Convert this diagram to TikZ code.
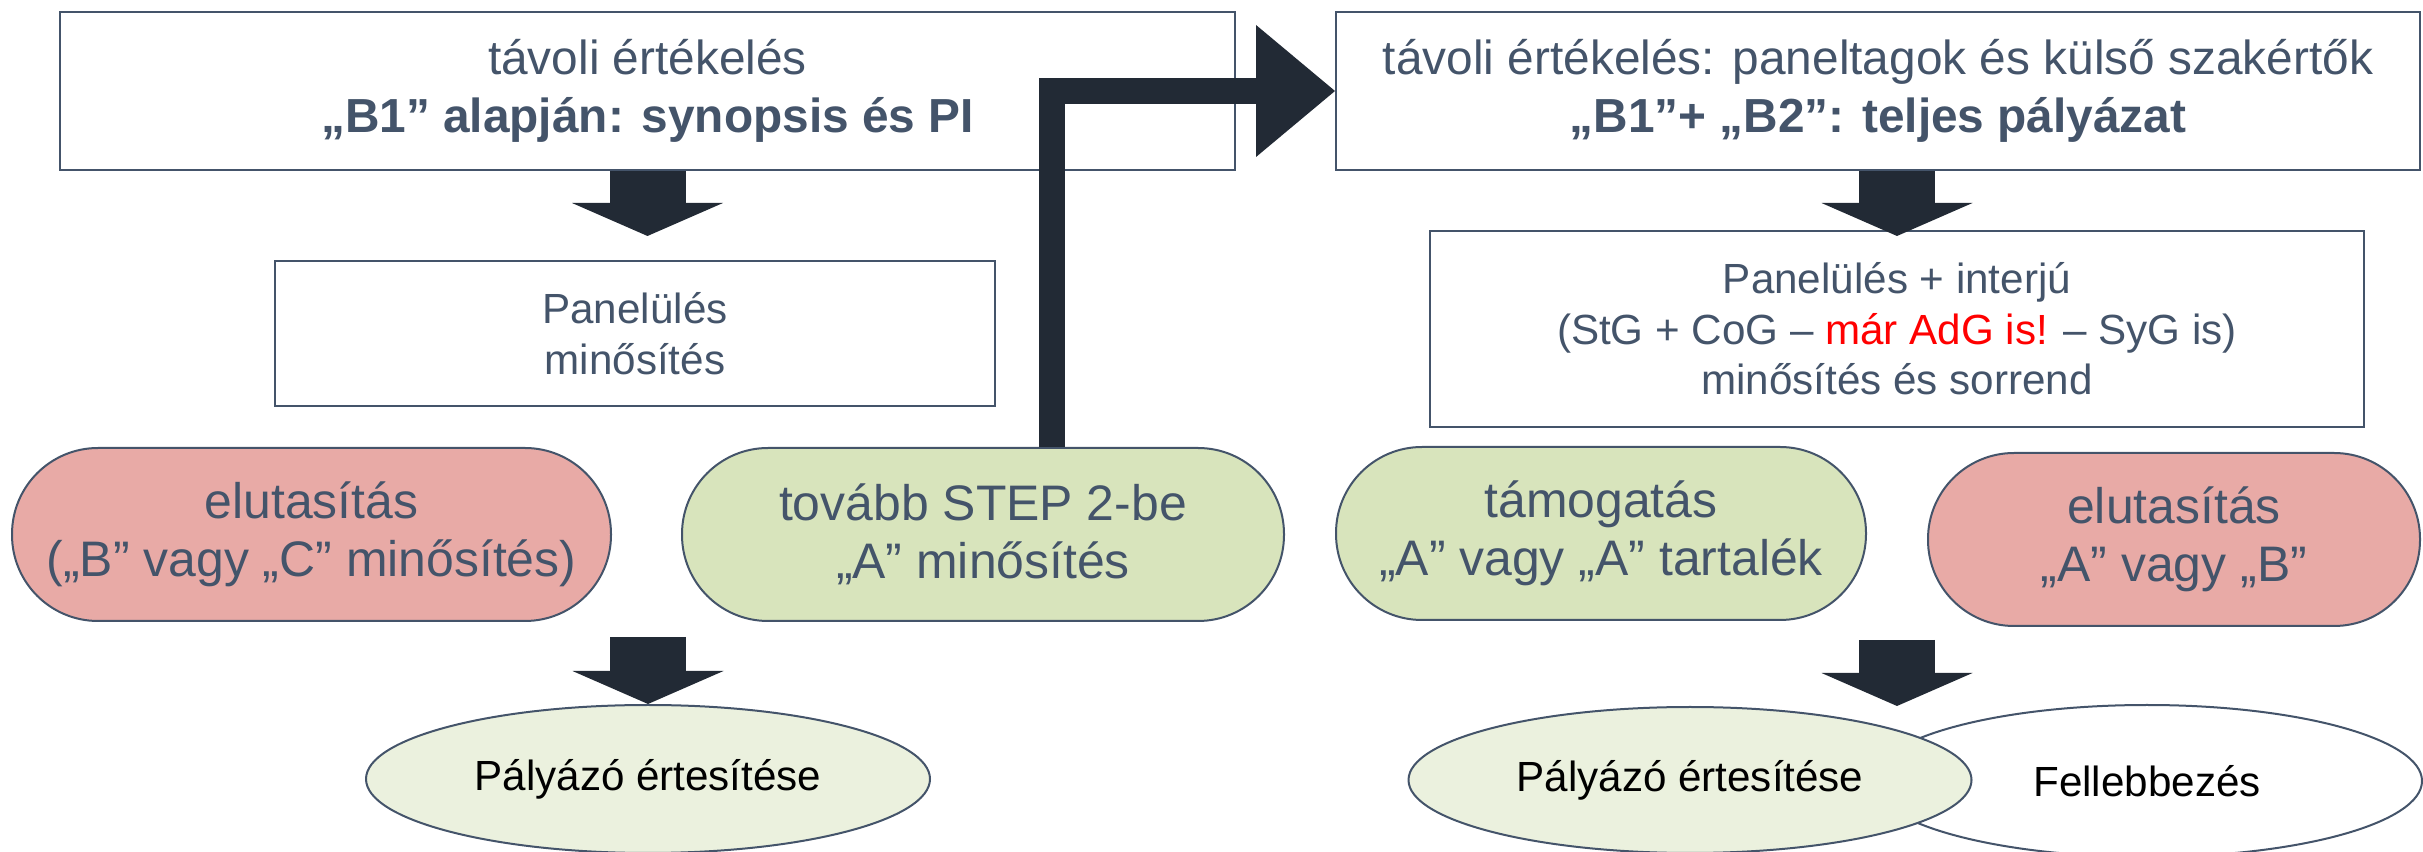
\documentclass[tikz,border=0pt]{standalone}
\usepackage{fontspec}
\setmainfont{Liberation Sans}
\usetikzlibrary{arrows.meta,calc,shapes.geometric}

\definecolor{slate}{HTML}{44546A}
\definecolor{arrowdark}{HTML}{222A35}
\definecolor{rejectred}{HTML}{E8AAA6}
\definecolor{passgreen}{HTML}{D8E4BC}
\definecolor{notegreen}{HTML}{EBF1DE}

\tikzset{
  bigbox/.style={draw=slate, line width=0.2mm, fill=white, text=slate, align=center, inner sep=0pt, minimum height=15.8mm, font=\fontsize{13.6}{16.5}\selectfont},
  panelbox/.style={draw=slate, line width=0.2mm, fill=white, text=slate, align=center, inner sep=0pt, font=\fontsize{12}{14.4}\selectfont},
  pill/.style={draw=slate, line width=0.2mm, rounded corners=8.6mm, text=slate, align=center, inner sep=0pt, minimum height=17.3mm, font=\fontsize{14.2}{16.5}\selectfont},
  notice/.style={ellipse, draw=slate, line width=0.2mm, inner sep=0pt, font=\fontsize{12}{14.4}\selectfont},
  fatdown/.style={draw=arrowdark, line width=7.6mm, -{Triangle[width=15.1mm,length=3.3mm,line width=0pt]}},
  fatbend/.style={draw=arrowdark, line width=2.6mm, line join=miter, -{Triangle[width=13.2mm,length=7.9mm,line width=0pt]}}
}

\begin{document}
\begin{tikzpicture}[x=0.1mm, y=-0.1mm]
    \useasboundingbox (0,0) rectangle (2423,852);

    % Step 1
    \node[bigbox, minimum width=117.5mm] (box1) at (647.5,91) {távoli értékelés\\\textbf{„B1” alapján: synopsis és PI}};
    \node[panelbox, minimum width=72mm, minimum height=14.5mm] (box3) at (635,333.5) {Panelülés\\minősítés};
    \node[pill, fill=rejectred, minimum width=59.9mm] (reject1) at (311.5,534.5) {elutasítás\\(„B” vagy „C” minősítés)};
    \node[pill, fill=passgreen, minimum width=60.2mm] (next) at (983,534.5) {tovább STEP 2-be\\„A” minősítés};
    \node[notice, fill=notegreen, minimum width=56.4mm, minimum height=14.8mm] (notif1) at (648,779) {Pályázó értesítése};

    % Step 2
    \node[bigbox, minimum width=108.4mm] (box2) at (1878,91) {távoli értékelés: paneltagok és külső szakértők\\\textbf{„B1”+ „B2”: teljes pályázat}};
    \node[panelbox, minimum width=93.4mm, minimum height=19.6mm] (box4) at (1897,329) {Panelülés + interjú\\(StG + CoG – \textcolor{red}{már AdG is!} – SyG is)\\minősítés és sorrend};
    \node[pill, fill=passgreen, minimum width=53mm] (support) at (1601,533.5) {támogatás\\„A” vagy „A” tartalék};
    \node[pill, fill=rejectred, minimum width=49.2mm] (reject2) at (2174,539.5) {elutasítás\\„A” vagy „B”};
    \node[notice, fill=white, minimum width=55mm, minimum height=15.2mm] (appeal) at (2147,781) {Fellebbezés};
    \node[notice, fill=notegreen, minimum width=56.3mm, minimum height=14.6mm] (notif2) at (1690,780) {Pályázó értesítése};

    % Arrows
    \draw[fatdown] (box1.south) -- ($(box1.south |- box3.north)+(0,-24)$);
    \draw[fatbend] ($(next.north)+(69,0)$) |- (box2.west);
    \draw[fatdown] (box2.south -| box4.north) -- ($(box4.north)+(0,6)$);
    \draw[fatdown] ($(notif1.north)+(0,-67)$) -- (notif1.north);
    \draw[fatdown] ($(notif2.north -| box4.south)+(0,-66)$) -- (notif2.north -| box4.south);
\end{tikzpicture}
\end{document}
